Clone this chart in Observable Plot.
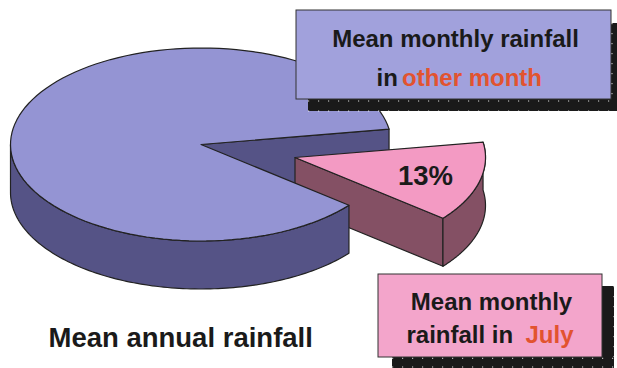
<!DOCTYPE html>
<html>
<head>
<meta charset="utf-8">
<script src="https://cdn.jsdelivr.net/npm/d3@7"></script>
<script src="https://cdn.jsdelivr.net/npm/@observablehq/plot@0.6"></script>
<style>html,body{margin:0;padding:0;background:#fff}svg{display:block}</style>
</head>
<body>
<div id="chart"></div>
<script>
// Data: the printed label is 13%; the drawn slice measures about 13.4%
const categories = ["other months", "July"];
const shares = [86.6, 13.4];
const sliceLabel = "13%";
const caption = "Mean annual rainfall";

// Pie layout (page units)
const W = 617, H = 368;
const cx = 200.5, cy = 144, rx = 190.5, ry = 96.5, depth = 48;
const explode = {dx: 94, dy: 13};
const startDeg = -9.2; // where the July slice starts
const julyEnd = startDeg + shares[1] / d3.sum(shares) * 360;

const rim = (t, ox = 0, oy = 0) => {
  const a = t * Math.PI / 180;
  return [cx + ox + rx * Math.cos(a), cy + oy + ry * Math.sin(a)];
};
const arc = (t0, t1, ox = 0, oy = 0) => d3.range(0, 121).map(i => rim(t0 + (t1 - t0) * i / 120, ox, oy));
const poly = (id, pts, fill) => pts.map(p => ({id, x: p[0], y: p[1], fill}));

const colors = {mainTop: "#9494d3", mainSide: "#555386", julyTop: "#f39ac3", julySide: "#845064",
                ink: "#1a1a1a", red: "#e2532f", box1: "#a1a1dc", box2: "#f3a5cb"};

const e = explode;
const pieces = [
  // back wall of the main pie, seen through the gap
  poly("wall", [[cx, cy], rim(startDeg), rim(startDeg, 0, depth), [cx, cy + depth]], colors.mainSide),
  // July slice
  poly("julyWall", [[cx + e.dx, cy + e.dy], rim(julyEnd, e.dx, e.dy), rim(julyEnd, e.dx, e.dy + depth), [cx + e.dx, cy + e.dy + depth]], colors.julySide),
  poly("julyRim", [...arc(startDeg, julyEnd, e.dx, e.dy), ...arc(julyEnd, startDeg, e.dx, e.dy + depth)], colors.julySide),
  poly("julyTop", [[cx + e.dx, cy + e.dy], ...arc(startDeg, julyEnd, e.dx, e.dy)], colors.julyTop),
  // main pie
  poly("mainRim", [...arc(julyEnd, 180), ...arc(180, julyEnd, 0, depth)], colors.mainSide),
  poly("mainTop", [[cx, cy], ...arc(julyEnd, startDeg + 360)], colors.mainTop)
];

const piece = pts => Plot.line(pts, {x: "x", y: "y", fill: d => d.fill, stroke: "#222", strokeWidth: 1.2, curve: "linear-closed", strokeLinejoin: "round"});

const boxes = [
  {x1: 308, x2: 617, y1: 23, y2: 111, f: colors.ink, s: "none"},
  {x1: 296, x2: 611, y1: 10, y2: 99, f: colors.box1, s: "#333"},
  {x1: 392, x2: 614, y1: 286, y2: 368, f: colors.ink, s: "none"},
  {x1: 378, x2: 602, y1: 274, y2: 357, f: colors.box2, s: "#333"}
];

// white specks along the edges of the box shadows
const speckH = [{x1: 308, x2: 617, y: 100.5}, {x1: 308, x2: 617, y: 110.5}, {x1: 392, x2: 614, y: 357.8}, {x1: 392, x2: 614, y: 366.5}];
const speckV = [{x: 611.5, y1: 23, y2: 99}, {x: 613.5, y1: 286, y2: 357}];

const font = {fontFamily: "Liberation Sans, Arial, sans-serif", fontWeight: "bold", lineAnchor: "middle"};
const texts = [
  {t: "Mean monthly rainfall", x: 455, y: 39, a: "middle", c: colors.ink, s: 24},
  {t: "in", x: 376, y: 78, a: "start", c: colors.ink, s: 24},
  {t: "other month", x: 401.5, y: 78, a: "start", c: colors.red, s: 24},
  {t: sliceLabel, x: 425, y: 176, a: "middle", c: colors.ink, s: 27.5},
  {t: "Mean monthly", x: 491, y: 302, a: "middle", c: colors.ink, s: 24},
  {t: "rainfall in", x: 406, y: 335, a: "start", c: colors.ink, s: 24},
  {t: "July", x: 525, y: 335, a: "start", c: colors.red, s: 24},
  {t: caption, x: 48, y: 338, a: "start", c: colors.ink, s: 27.5}
];

const chart = Plot.plot({
  width: W, height: H, margin: 0,
  x: {domain: [0, W], range: [0, W], axis: null},
  y: {domain: [0, H], range: [0, H], axis: null},
  marks: [
    ...pieces.map(piece),
    Plot.rect(boxes, {x1: "x1", x2: "x2", y1: "y1", y2: "y2", fill: d => d.f, stroke: d => d.s}),
    Plot.ruleY(speckH, {x1: "x1", x2: "x2", y: "y", stroke: "#fff", strokeWidth: 1, strokeDasharray: "1.2,8.8", strokeOpacity: 0.85}),
    Plot.ruleX(speckV, {x: "x", y1: "y1", y2: "y2", stroke: "#fff", strokeWidth: 1, strokeDasharray: "1.2,8.8", strokeOpacity: 0.85}),
    ...texts.map(d => Plot.text([d], {...font, x: "x", y: "y", text: "t", textAnchor: d.a, fill: d.c, fontSize: d.s}))
  ]
});
chart.querySelectorAll(`text[fill="${colors.red}"]`).forEach(n => n.style.textShadow = "0.7px 0.7px 0.6px rgba(80,50,50,.5)");
document.getElementById("chart").append(chart);
</script>
</body>
</html>
